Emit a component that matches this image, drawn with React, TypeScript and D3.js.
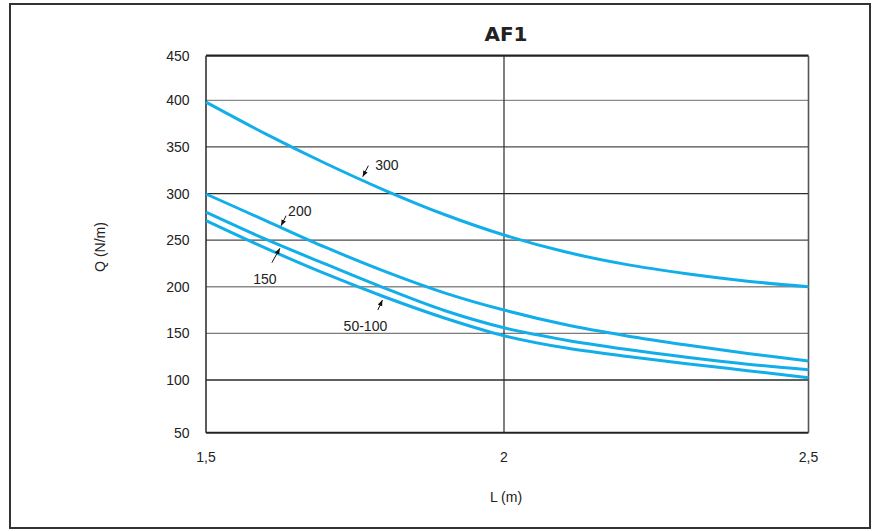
import React from "react";
import * as d3 from "d3";

const lengths = [1.5, 1.6, 1.7, 1.8, 1.9, 2.0, 2.1, 2.2, 2.3, 2.4, 2.5];
const q300 = [398, 364, 332.5, 303.5, 277.5, 255.5, 237.5, 224, 214, 206, 200];
const q200 = [299.5, 271, 242.5, 216.5, 193.5, 175, 159.5, 147.5, 137.5, 128.5, 120.5];
const q150 = [280, 251, 224.5, 198.5, 174.5, 156, 143, 133, 124.5, 117, 111];
const q50100 = [271, 241.5, 214, 189, 166.5, 147.5, 134.5, 125.5, 117.5, 110, 102.5];

const seriesNames = ["300", "200", "150", "50-100"];
const seriesValues = [q300, q200, q150, q50100];

const yTicks = [50, 100, 150, 200, 250, 300, 350, 400, 450];
const xTicks = [1.5, 2, 2.5];
const xTickLabels = ["1,5", "2", "2,5"];

// annotation tips in data units (arrow tip on curve)
const annoTipL = [1.763, 1.626, 1.624, 1.796];
const annoTipQ = [318.1, 265.5, 241.3, 185.8];

const title = "AF1";
const xTitle = "L (m)";
const yTitle = "Q (N/m)";

export default function App() {
  const x = d3.scaleLinear().domain([1.5, 2, 2.5]).range([206, 504, 808.5]);
  const y = d3
    .scaleLinear()
    .domain([50, 100, 400, 450])
    .range([432.7, 380, 100.3, 55.7]);

  const line = d3
    .line<[number, number]>()
    .x((d) => x(d[0]))
    .y((d) => y(d[1]))
    .curve(d3.curveCatmullRom.alpha(0.5));

  const gridColor: Record<number, string> = {
    100: "#2a2a2a",
    150: "#7a7a7a",
    200: "#8a8a8a",
    250: "#4a4a4a",
    300: "#2a2a2a",
    350: "#4a4a4a",
    400: "#8a8a8a",
  };

  // offsets (px) for leader start and label, relative to tip
  const annoLayout = [
    { lx: 5.6, ly: -11, tx: 12.5, ty: -6.5, anchor: "start" },
    { lx: 5, ly: -10, tx: 7, ty: -10, anchor: "start" },
    { lx: -8, ly: 14.4, tx: -15, ty: 35.7, anchor: "middle" },
    { lx: -4.6, ly: 10, tx: -17, ty: 31, anchor: "middle" },
  ];

  const font = "'Liberation Sans', Arial, Helvetica, sans-serif";
  const blue = "#12aeea";

  return (
    <svg
      width={877}
      height={531}
      style={{ position: "absolute", left: 0, top: 0, background: "#fff" }}
      fontFamily={font}
    >
      <defs>
        <marker
          id="arr"
          viewBox="0 0 10 10"
          refX="10"
          refY="5"
          markerWidth="6"
          markerHeight="6"
          orient="auto"
          markerUnits="userSpaceOnUse"
        >
          <path d="M0,1 L10,5 L0,9 Z" fill="#111" />
        </marker>
      </defs>
      <rect x={0} y={0} width={877} height={531} fill="#fff" />
      <rect
        x={10}
        y={4}
        width={860}
        height={524}
        fill="none"
        stroke="#333"
        strokeWidth={2}
      />

      <text
        x={506}
        y={41}
        textAnchor="middle"
        fontFamily="'DejaVu Sans', sans-serif"
        fontWeight="bold"
        fontSize={20}
        fill="#222"
      >
        {title}
      </text>

      {/* horizontal grid */}
      {yTicks
        .filter((t) => t > 50 && t < 450)
        .map((t) => (
          <line
            key={"g" + t}
            x1={x(1.5)}
            x2={x(2.5)}
            y1={y(t)}
            y2={y(t)}
            stroke={gridColor[t]}
            strokeWidth={1.3}
          />
        ))}
      {/* vertical grid */}
      <line
        x1={x(2)}
        x2={x(2)}
        y1={y(450)}
        y2={y(50)}
        stroke="#2a2a2a"
        strokeWidth={1.2}
      />

      {/* frame */}
      <line x1={x(1.5)} x2={x(2.5)} y1={y(450)} y2={y(450)} stroke="#222" strokeWidth={2.2} />
      <line x1={x(1.5)} x2={x(2.5)} y1={y(50)} y2={y(50)} stroke="#222" strokeWidth={2} />
      <line x1={x(1.5)} x2={x(1.5)} y1={y(450)} y2={y(50)} stroke="#333" strokeWidth={1.6} />
      <line x1={x(2.5)} x2={x(2.5)} y1={y(450)} y2={y(50)} stroke="#555" strokeWidth={1.6} />

      {/* curves */}
      {seriesValues.map((vals, i) => (
        <path
          key={"s" + i}
          d={line(lengths.map((l, j) => [l, vals[j]] as [number, number])) || ""}
          fill="none"
          stroke={blue}
          strokeWidth={3}
        />
      ))}

      {/* annotations */}
      {seriesNames.map((name, i) => {
        const tx = x(annoTipL[i]);
        const ty = y(annoTipQ[i]);
        const a = annoLayout[i];
        return (
          <g key={"a" + i}>
            <line
              x1={tx + a.lx}
              y1={ty + a.ly}
              x2={tx}
              y2={ty}
              stroke="#111"
              strokeWidth={1}
              markerEnd="url(#arr)"
            />
            <text
              x={tx + a.tx}
              y={ty + a.ty}
              textAnchor={a.anchor as any}
              fontSize={14}
              fill="#222"
            >
              {name}
            </text>
          </g>
        );
      })}

      {/* y tick labels */}
      {yTicks.map((t) => (
        <text
          key={"yt" + t}
          x={189.5}
          y={y(t) + 5}
          textAnchor="end"
          fontSize={14}
          fill="#222"
        >
          {t}
        </text>
      ))}
      {/* x tick labels */}
      {xTicks.map((t, i) => (
        <text
          key={"xt" + t}
          x={x(t)}
          y={462}
          textAnchor="middle"
          fontSize={14}
          fill="#222"
        >
          {xTickLabels[i]}
        </text>
      ))}

      <text x={506} y={501.5} textAnchor="middle" fontSize={14} fill="#222">
        {xTitle}
      </text>
      <text
        transform={`translate(105,247) rotate(-90)`}
        textAnchor="middle"
        fontSize={14}
        fill="#222"
      >
        {yTitle}
      </text>
    </svg>
  );
}
